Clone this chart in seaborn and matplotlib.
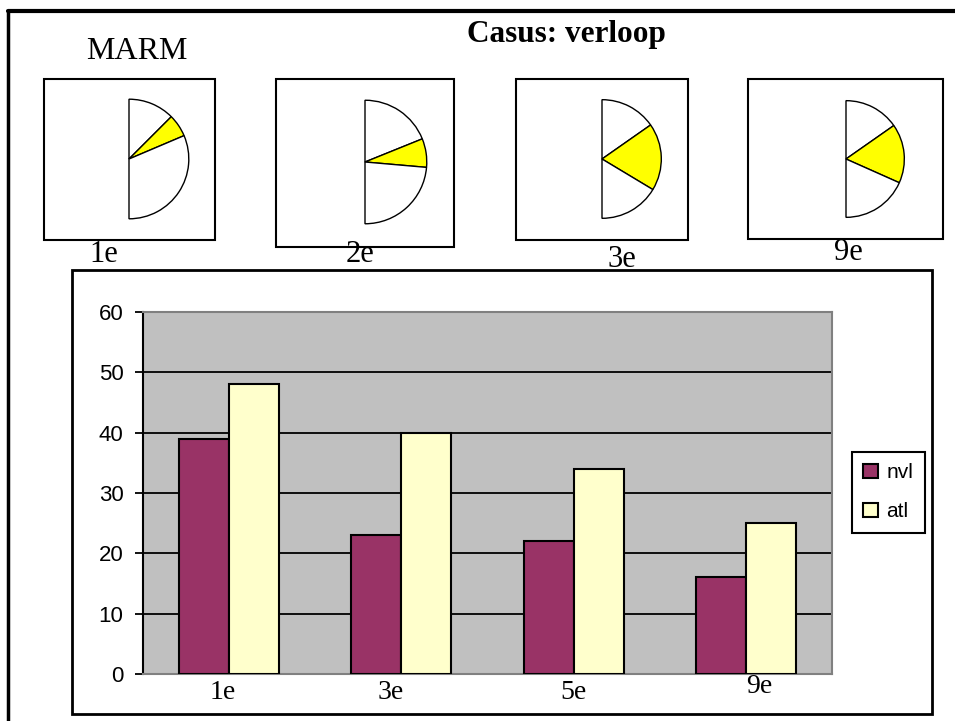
import matplotlib
matplotlib.use("Agg")
import matplotlib.pyplot as plt
import matplotlib.transforms as mtransforms
import numpy as np
import pandas as pd
import seaborn as sns
from matplotlib.patches import Rectangle, Patch
from matplotlib.lines import Line2D

# --- data -------------------------------------------------------------
klassen = ["1e", "3e", "5e", "9e"]
nvl = [39, 23, 22, 16]
atl = [48, 40, 34, 25]
reeksen = ["nvl", "atl"]
kleuren = ["#993366", "#FFFFCC"]

# small half-pie panels: shares (in degrees of the visible half)
pie_labels = ["1e", "2e", "3e", "9e"]
pie_boven = [45, 68, 55, 55]
pie_geel = [22, 27, 66, 59]
pie_onder = [113, 85, 59, 66]

titel = "Casus: verloop"
kop = "MARM"

# --- figure -----------------------------------------------------------
sns.set_theme(style="white")
plt.rcParams["font.family"] = ["Liberation Sans", "DejaVu Sans"]
plt.rcParams["text.color"] = "black"
plt.rcParams["xtick.labelcolor"] = "black"
plt.rcParams["ytick.labelcolor"] = "black"

W, H = 955, 721
fig = plt.figure(figsize=(W / 100, H / 100), dpi=100)
fig.patch.set_facecolor("white")


def box(x0, y0, x1, y1):
    return [x0 / W, 1 - y1 / H, (x1 - x0) / W, (y1 - y0) / H]


def frame(x0, y0, x1, y1, lw=1.5, color="black"):
    fig.add_artist(Rectangle((x0 / W, 1 - y1 / H), (x1 - x0) / W, (y1 - y0) / H,
                             transform=fig.transFigure, fill=False,
                             edgecolor=color, linewidth=lw))


def ftext(x, y, s, **kw):
    fig.text(x / W, 1 - y / H, s, **kw)


# page border (top and left)
fig.add_artist(Line2D([8 / W, 1], [1 - 11 / H, 1 - 11 / H], transform=fig.transFigure,
                      color="black", linewidth=3))
fig.add_artist(Line2D([8 / W, 8 / W], [1 - 11 / H, 0], transform=fig.transFigure,
                      color="black", linewidth=2.5))

serif = ["Liberation Serif", "DejaVu Serif"]
ftext(566, 42, titel, ha="center", va="baseline", fontsize=22.5,
      fontweight="bold", family=serif)
ftext(137, 59, kop, ha="center", va="baseline", fontsize=23, family=serif)

# --- half pies --------------------------------------------------------
pie_boxes = [(44, 79, 215, 240), (276, 79, 454, 247), (516, 79, 688, 240), (748, 79, 943, 239)]
pie_centres = [(129, 159, 61), (365, 162, 63), (602, 159, 60.5), (846, 159, 59.5)]
pie_label_pos = [(104, 262), (360, 262), (622, 267), (848, 260)]

for i in range(4):
    frame(*pie_boxes[i], lw=1.5)
    cx, cy, r = pie_centres[i]
    pax = fig.add_axes(box(cx - r, cy - r, cx + r, cy + r))
    vals = [pie_boven[i], pie_geel[i], pie_onder[i],
            pie_boven[i] + pie_geel[i] + pie_onder[i]]
    wedges, _ = pax.pie(vals, colors=["white", "#FFFF00", "white", "white"],
                        startangle=90, counterclock=False, radius=1,
                        wedgeprops=dict(edgecolor="black", linewidth=1.0))
    wedges[3].set_visible(False)
    pax.set_xlim(-1.02, 1.02)
    pax.set_ylim(-1.02, 1.02)
    pax.axis("off")
    lx, ly = pie_label_pos[i]
    ftext(lx, ly, pie_labels[i], ha="center", va="baseline", fontsize=22, family=serif)

# --- bar chart --------------------------------------------------------
frame(72, 270, 932, 714, lw=2)

df = pd.DataFrame({
    "klas": klassen * 2,
    "waarde": nvl + atl,
    "reeks": [reeksen[0]] * len(klassen) + [reeksen[1]] * len(klassen),
})

ax = fig.add_axes(box(143, 312, 832, 674))
ax.set_facecolor("#C0C0C0")
sns.barplot(data=df, x="klas", y="waarde", hue="reeks", order=klassen,
            hue_order=reeksen, palette=kleuren, saturation=1, width=0.58,
            edgecolor="black", linewidth=1.5, ax=ax, legend=False, zorder=3)

ax.set_ylim(0, 60)
ax.set_xlim(-0.5, len(klassen) - 0.5)
yt = np.arange(0, 61, 10)
ax.set_yticks(yt)
for v in yt[1:-1]:
    ax.axhline(v, color="black", linewidth=1.3, zorder=1)
ax.grid(False)
ax.set_xlabel("")
ax.set_ylabel("")

for side in ["top", "right", "bottom"]:
    ax.spines[side].set_color("#808080")
    ax.spines[side].set_linewidth(1.5)
ax.spines["left"].set_color("black")
ax.spines["left"].set_linewidth(1.5)

ax.tick_params(axis="y", direction="out", length=6, width=1.3, color="black",
               labelsize=16, pad=8, left=True)
ax.tick_params(axis="x", length=0, pad=4.5)
for lab in ax.get_yticklabels():
    lab.set_family(["Liberation Sans", "DejaVu Sans"])
    lab.set_fontsize(16)
    lab.set_color("black")

# category labels sit slightly off-centre under their groups
label_shift = [(-6, 0), (-11, 0), (0, 0), (13, 6)]
for lab, (dx, dy) in zip(ax.get_xticklabels(), label_shift):
    lab.set_family(serif)
    lab.set_fontsize(20)
    lab.set_color("black")
    lab.set_transform(lab.get_transform() +
                      mtransforms.ScaledTranslation(dx / 100, dy / 100, fig.dpi_scale_trans))

handles = [Patch(facecolor=c, edgecolor="black", linewidth=1.5) for c in kleuren]
leg = ax.legend(handles, reeksen, loc="upper left",
                bbox_to_anchor=(852 / W, 1 - 452 / H), bbox_transform=fig.transFigure,
                frameon=True, fancybox=False, edgecolor="black", framealpha=1,
                prop={"family": ["Liberation Sans", "DejaVu Sans"], "size": 15},
                handlelength=0.7, handleheight=0.7, handletextpad=0.4,
                labelspacing=0.95, borderpad=0.55, borderaxespad=0)
leg.get_frame().set_linewidth(1.5)
for t in leg.get_texts():
    t.set_color("black")

fig.savefig("out.png", dpi=100, facecolor="white")
